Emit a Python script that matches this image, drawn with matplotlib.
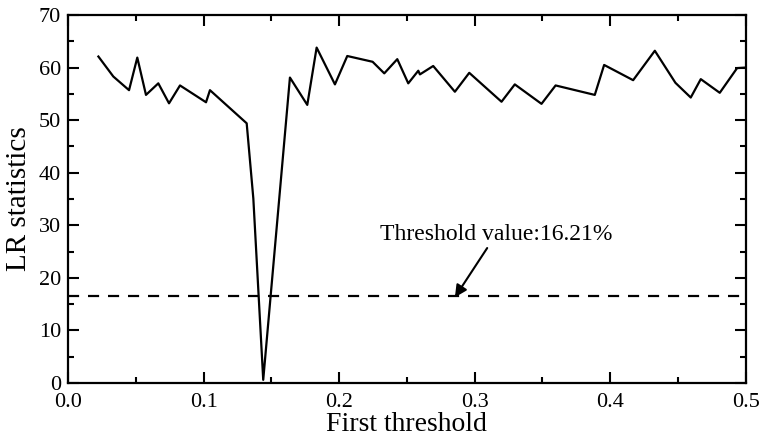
import matplotlib
matplotlib.use("Agg")
import matplotlib.pyplot as plt
from matplotlib.ticker import MultipleLocator

# Data
threshold_x = [0.0224, 0.0334, 0.0450, 0.0511, 0.0575, 0.0666, 0.0745, 0.0826,
               0.1018, 0.1047, 0.1318, 0.1367, 0.1440, 0.1637, 0.1765, 0.1834,
               0.1969, 0.2060, 0.2247, 0.2333, 0.2429, 0.2510, 0.2584, 0.2596,
               0.2694, 0.2854, 0.2960, 0.3198, 0.3296, 0.3493, 0.3597, 0.3886,
               0.3955, 0.4169, 0.4329, 0.4481, 0.4594, 0.4668, 0.4808, 0.4936,
               0.5000]
lr_stat = [62.1, 58.3, 55.7, 61.9, 54.8, 57.0, 53.2, 56.6,
           53.4, 55.7, 49.4, 35.1, 0.6, 58.1, 52.9, 63.8,
           56.8, 62.2, 61.1, 58.9, 61.6, 57.0, 59.4, 58.7,
           60.3, 55.4, 59.0, 53.5, 56.8, 53.1, 56.6, 54.8,
           60.5, 57.6, 63.2, 57.1, 54.3, 57.8, 55.2, 59.9,
           60.0]
critical_value = 16.55
annot_text = "Threshold value:16.21%"
x_ticks = [0.0, 0.1, 0.2, 0.3, 0.4, 0.5]
y_ticks = [0, 10, 20, 30, 40, 50, 60, 70]

plt.rcParams['font.family'] = ['Liberation Serif', 'DejaVu Serif']

fig = plt.figure(figsize=(7.61, 4.41), dpi=100)
ax = fig.add_axes([0.0894, 0.1315, 0.8906, 0.8345])

ax.plot(threshold_x, lr_stat, color='black', lw=1.6)
ax.axhline(critical_value, color='black', lw=1.6, ls=(0, (5, 4)), xmin=0.0, xmax=0.995)

ax.annotate(annot_text, xy=(0.2854, 16.3), xytext=(0.230, 28.2),
            fontsize=17, va='center', ha='left',
            arrowprops=dict(arrowstyle='-|>', color='black', lw=1.5,
                            mutation_scale=18, shrinkA=0, shrinkB=0,
                            relpos=(0.47, 0.0)))

ax.set_xlim(0, 0.5)
ax.set_ylim(0, 70)
ax.set_xticks(x_ticks)
ax.set_yticks(y_ticks)
ax.xaxis.set_minor_locator(MultipleLocator(0.05))
ax.yaxis.set_minor_locator(MultipleLocator(5))
ax.tick_params(which='both', direction='in', top=True, right=True, width=1.5)
ax.tick_params(which='major', length=8, labelsize=16)
ax.tick_params(which='minor', length=4)
ax.tick_params(axis='x', which='major', pad=7)
ax.tick_params(axis='y', which='major', pad=5)
for s in ax.spines.values():
    s.set_linewidth(1.6)

ax.set_xlabel("First threshold", fontsize=20, labelpad=0)
ax.set_ylabel("LR statistics", fontsize=21, labelpad=5)

fig.savefig("out.png", dpi=100)
